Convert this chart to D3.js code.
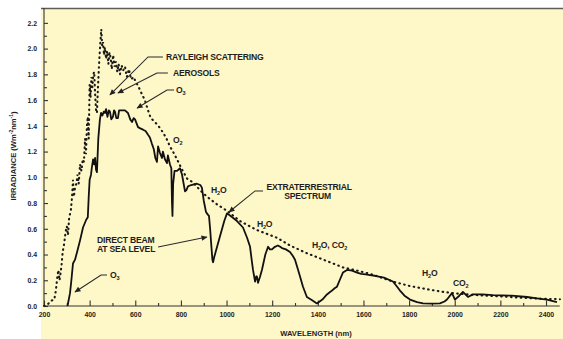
<!DOCTYPE html>
<html>
<head>
<meta charset="utf-8">
<script src="https://cdn.jsdelivr.net/npm/d3@7"></script>
<style>
  html, body { margin: 0; padding: 0; background: #ffffff; }
  svg { display: block; }
  text { font-family: "Liberation Sans", Arial, Helvetica, sans-serif; fill: #1e1e1e; }
</style>
</head>
<body>
<svg id="chart" width="563" height="339"></svg>
<script>
// Extraterrestrial solar spectrum (dotted), wavelength in nm, irradiance in W m^-2 nm^-1
const etWavelength = [200, 215, 230, 245, 252, 258, 263, 268, 272, 277, 282, 288, 295, 300, 305, 310, 318, 323, 327, 331, 336, 342, 347, 352, 358, 364, 370, 375, 380, 384, 388, 392, 396, 400, 404, 408, 412, 416, 420, 424, 428, 432, 437, 442, 447, 451, 455, 459, 463, 467, 472, 477, 482, 487, 492, 497, 503, 509, 515, 521, 527, 533, 540, 547, 555, 563, 572, 582, 592, 603, 615, 628, 642, 656, 668, 686, 705, 721, 737, 752, 768, 783, 805, 827, 853, 884, 914, 958, 1002, 1059, 1133, 1221, 1278, 1352, 1453, 1510, 1560, 1629, 1729, 1804, 1880, 1948, 2020, 2097, 2170, 2242, 2320, 2387, 2461];
const etIrradiance = [0.0, 0.01, 0.04, 0.05, 0.12, 0.22, 0.28, 0.20, 0.25, 0.32, 0.42, 0.48, 0.58, 0.62, 0.55, 0.68, 0.75, 0.85, 0.98, 0.85, 0.92, 0.95, 1.02, 0.95, 1.10, 1.05, 1.14, 1.12, 1.30, 1.18, 1.40, 1.47, 1.30, 1.72, 1.62, 1.78, 1.70, 1.80, 1.82, 1.65, 1.52, 1.50, 1.72, 1.90, 2.05, 2.15, 2.02, 2.05, 1.95, 2.01, 1.92, 1.98, 1.88, 1.97, 1.93, 1.84, 1.95, 1.86, 1.90, 1.82, 1.88, 1.80, 1.87, 1.83, 1.86, 1.78, 1.84, 1.76, 1.78, 1.74, 1.70, 1.65, 1.60, 1.52, 1.46, 1.43, 1.39, 1.35, 1.30, 1.24, 1.19, 1.14, 1.06, 0.99, 0.96, 0.90, 0.85, 0.79, 0.74, 0.66, 0.59, 0.53, 0.47, 0.41, 0.34, 0.30, 0.28, 0.25, 0.19, 0.155, 0.13, 0.11, 0.095, 0.085, 0.077, 0.07, 0.062, 0.056, 0.053];

// Direct beam at sea level (solid)
const beamWavelength = [303, 314, 320, 327, 336, 345, 358, 371, 385, 392, 396, 400, 406, 410, 415, 420, 424, 428, 432, 438, 445, 450, 456, 462, 467, 472, 478, 484, 489, 495, 502, 507, 511, 517, 524, 529, 540, 555, 568, 578, 586, 593, 599, 612, 622, 634, 645, 656, 664, 673, 681, 688, 695, 700, 708, 717, 721, 730, 739, 743, 752, 758, 761, 763, 766, 772, 783, 796, 805, 812, 818, 824, 831, 845, 870, 885, 892, 900, 910, 918, 923, 928, 932, 938, 941, 946, 960, 971, 990, 1002, 1025, 1046, 1072, 1090, 1103, 1110, 1116, 1125, 1130, 1133, 1138, 1147, 1155, 1170, 1182, 1190, 1199, 1212, 1225, 1235, 1243, 1260, 1278, 1290, 1300, 1312, 1322, 1335, 1352, 1375, 1396, 1420, 1440, 1455, 1462, 1475, 1484, 1498, 1510, 1528, 1550, 1572, 1590, 1610, 1629, 1650, 1690, 1729, 1745, 1760, 1780, 1804, 1835, 1861, 1900, 1935, 1955, 1966, 1988, 2001, 2020, 2036, 2050, 2058, 2080, 2120, 2168, 2250, 2317, 2360, 2404, 2448];
const beamIrradiance = [0.0, 0.10, 0.20, 0.33, 0.36, 0.42, 0.51, 0.61, 0.67, 0.69, 0.85, 0.98, 1.02, 1.08, 1.14, 1.10, 1.15, 1.06, 1.04, 1.30, 1.45, 1.50, 1.48, 1.51, 1.50, 1.53, 1.47, 1.52, 1.51, 1.45, 1.47, 1.52, 1.51, 1.46, 1.46, 1.52, 1.52, 1.52, 1.50, 1.45, 1.43, 1.46, 1.45, 1.39, 1.38, 1.37, 1.36, 1.33, 1.31, 1.26, 1.22, 1.15, 1.12, 1.24, 1.19, 1.15, 1.20, 1.14, 1.11, 1.17, 1.10, 1.07, 0.80, 0.70, 0.95, 1.05, 1.05, 1.07, 1.02, 0.95, 0.89, 0.90, 0.93, 0.94, 0.95, 0.94, 0.92, 0.82, 0.73, 0.71, 0.70, 0.60, 0.50, 0.36, 0.34, 0.38, 0.47, 0.54, 0.66, 0.72, 0.69, 0.66, 0.61, 0.53, 0.46, 0.36, 0.28, 0.19, 0.23, 0.23, 0.18, 0.23, 0.28, 0.40, 0.46, 0.44, 0.44, 0.46, 0.47, 0.46, 0.45, 0.44, 0.42, 0.39, 0.36, 0.29, 0.23, 0.15, 0.07, 0.045, 0.02, 0.05, 0.09, 0.11, 0.12, 0.14, 0.15, 0.21, 0.26, 0.28, 0.275, 0.26, 0.25, 0.245, 0.24, 0.235, 0.22, 0.19, 0.155, 0.12, 0.08, 0.05, 0.03, 0.02, 0.018, 0.02, 0.035, 0.05, 0.10, 0.05, 0.08, 0.11, 0.085, 0.07, 0.09, 0.09, 0.085, 0.08, 0.07, 0.06, 0.05, 0.03];

// Axis ticks and labels
const xMinorTicks = [300, 500, 700, 900, 1100, 1300, 1500, 1700, 1900, 2100, 2300];
const xMajorTicks = [200, 400, 600, 800, 1000, 1200, 1400, 1600, 1800, 2000, 2200, 2400];
const xTickLabels = ["200", "400", "600", "800", "1000", "1200", "1400", "1600", "1800", "2000", "2200", "2400"];
const yMinorTicks = [0.1, 0.3, 0.5, 0.7, 0.9, 1.1, 1.3, 1.5, 1.7, 1.9, 2.1];
const yMajorTicks = [0, 0.2, 0.4, 0.6, 0.8, 1.0, 1.2, 1.4, 1.6, 1.8, 2.0, 2.2];
const yTickLabels = ["0.0", "0.2", "0.4", "0.6", "0.8", "1.0", "1.2", "1.4", "1.6", "1.8", "2.0", "2.2"];

// Callout labels ("_n" = subscript, "^n" = superscript), placed in data units
const labelText = ["RAYLEIGH SCATTERING", "AEROSOLS", "O_3", "O_2", "H_2O", "EXTRATERRESTRIAL", "SPECTRUM", "H_2O", "H_2O, CO_2", "DIRECT BEAM", "AT SEA LEVEL", "O_3", "H_2O", "CO_2"];
const labelAnchor = ["start", "start", "start", "start", "start", "middle", "middle", "start", "start", "start", "start", "start", "start", "start"];
const labelPos = [[735, 1.91], [765, 1.79], [778, 1.655], [765, 1.267], [932, 0.878], [1362, 0.905], [1355, 0.835], [1133, 0.614], [1374, 0.45], [432, 0.49], [432, 0.42], [489, 0.218], [1857, 0.233], [1992, 0.155]];

// Leader lines, each ending in an arrowhead at the last point
const leaderLines = [
  [[721, 1.935], [656, 1.935], [489, 1.64]],
  [[743, 1.81], [695, 1.81], [524, 1.655]],
  [[770, 1.678], [739, 1.678], [608, 1.538]],
  [[1160, 0.894], [1125, 0.894], [1011, 0.73]],
  [[700, 0.458], [914, 0.536]],
  [[476, 0.241], [450, 0.241], [336, 0.109]]
];

const svg = d3.select("#chart");
const W = 563, H = 339;

const x = d3.scaleLinear().domain([200, 2460]).range([44, 559.7]);
const y = d3.scaleLinear().domain([0, 2.3]).range([306, 10]);

// Panel background and top rule
svg.append("rect").attr("x", 41).attr("y", 8).attr("width", W - 41).attr("height", H - 8).attr("fill", "#fef7c8");
svg.append("line").attr("x1", 41).attr("x2", W).attr("y1", 8.5).attr("y2", 8.5).attr("stroke", "#5d5d55").attr("stroke-width", 1.6);

// Arrowhead marker
svg.append("defs").append("marker")
  .attr("id", "arrow").attr("viewBox", "0 0 10 10").attr("refX", 9).attr("refY", 5)
  .attr("markerWidth", 7).attr("markerHeight", 6).attr("markerUnits", "userSpaceOnUse")
  .attr("orient", "auto")
  .append("path").attr("d", "M0,0.5 L10,5 L0,9.5 Z").attr("fill", "#222");

// Axes
const axisFont = g => g.selectAll("text").attr("font-size", "6.9px").attr("font-weight", "bold").attr("fill", "#2a2a2a");

const xMinor = svg.append("g").attr("transform", `translate(0,${y(0)})`)
  .call(d3.axisBottom(x).tickValues(xMinorTicks).tickSize(-3).tickSizeOuter(0).tickFormat(""));
xMinor.select(".domain").remove();
const xMajor = svg.append("g").attr("transform", `translate(0,${y(0)})`)
  .call(d3.axisBottom(x).tickValues(xMajorTicks).tickSize(-5.5).tickSizeOuter(0).tickPadding(6)
    .tickFormat((d, i) => xTickLabels[i]))
  .call(axisFont);
xMajor.select(".domain").attr("d", `M${x(200)},0H${x(2460)}`);

const yMinor = svg.append("g").attr("transform", `translate(${x(200)},0)`)
  .call(d3.axisLeft(y).tickValues(yMinorTicks).tickSize(-3).tickSizeOuter(0).tickFormat(""));
yMinor.select(".domain").remove();
const yMajor = svg.append("g").attr("transform", `translate(${x(200)},0)`)
  .call(d3.axisLeft(y).tickValues(yMajorTicks).tickSize(-4).tickSizeOuter(0).tickPadding(7)
    .tickFormat((d, i) => yTickLabels[i]))
  .call(axisFont);
yMajor.select(".domain").attr("d", `M0,${y(0)}V8`);

svg.selectAll(".domain, .tick line").attr("stroke", "#333").attr("stroke-width", 1.1);

// Series
const etPoints = etWavelength.map((w, i) => [w, etIrradiance[i]]);
const beamPoints = beamWavelength.map((w, i) => [w, beamIrradiance[i]]);
const line = d3.line().x(d => x(d[0])).y(d => y(d[1]));

svg.append("path").datum(etPoints).attr("d", line)
  .attr("fill", "none").attr("stroke", "#1a1a1a").attr("stroke-width", 2.1)
  .attr("stroke-dasharray", "0.6,4.3").attr("stroke-linecap", "round");

svg.append("path").datum(beamPoints).attr("d", line)
  .attr("fill", "none").attr("stroke", "#111").attr("stroke-width", 1.8)
  .attr("stroke-linejoin", "round");

// Rich text helper: "_d" subscript, "^-d" superscript
function richText(sel, str, size) {
  const parts = str.split(/(_\d|\^-?\d)/).filter(s => s.length);
  let shifted = 0;
  parts.forEach(p => {
    if (p[0] === "_") {
      sel.append("tspan").attr("dy", size * 0.28 - shifted).attr("font-size", size * 0.65 + "px").text(p.slice(1));
      shifted = size * 0.28;
    } else if (p[0] === "^") {
      sel.append("tspan").attr("dy", -size * 0.38 - shifted).attr("font-size", size * 0.65 + "px").text(p.slice(1));
      shifted = -size * 0.38;
    } else {
      sel.append("tspan").attr("dy", -shifted).text(p);
      shifted = 0;
    }
  });
}

// Leader lines
leaderLines.forEach(pts => {
  svg.append("path").attr("d", d3.line().x(d => x(d[0])).y(d => y(d[1]))(pts))
    .attr("fill", "none").attr("stroke", "#2a2a2a").attr("stroke-width", 1.1)
    .attr("marker-end", "url(#arrow)");
});

// Callout labels
labelText.forEach((t, i) => {
  const size = 8.6;
  const el = svg.append("text")
    .attr("x", x(labelPos[i][0])).attr("y", y(labelPos[i][1]))
    .attr("text-anchor", labelAnchor[i])
    .attr("font-size", size + "px").attr("font-weight", "bold")
    .attr("letter-spacing", "-0.2px");
  richText(el, t, size);
});

// Axis titles
const xt = svg.append("text").attr("x", 316).attr("y", 336).attr("text-anchor", "middle")
  .attr("font-size", "7.6px").attr("font-weight", "bold");
richText(xt, "WAVELENGTH (nm)", 7.6);

const yt = svg.append("text").attr("transform", "translate(16,156) rotate(-90)").attr("text-anchor", "middle")
  .attr("font-size", "7.6px").attr("font-weight", "bold");
richText(yt, "IRRADIANCE (Wm^-2nm^-1)", 7.6);
</script>
</body>
</html>
